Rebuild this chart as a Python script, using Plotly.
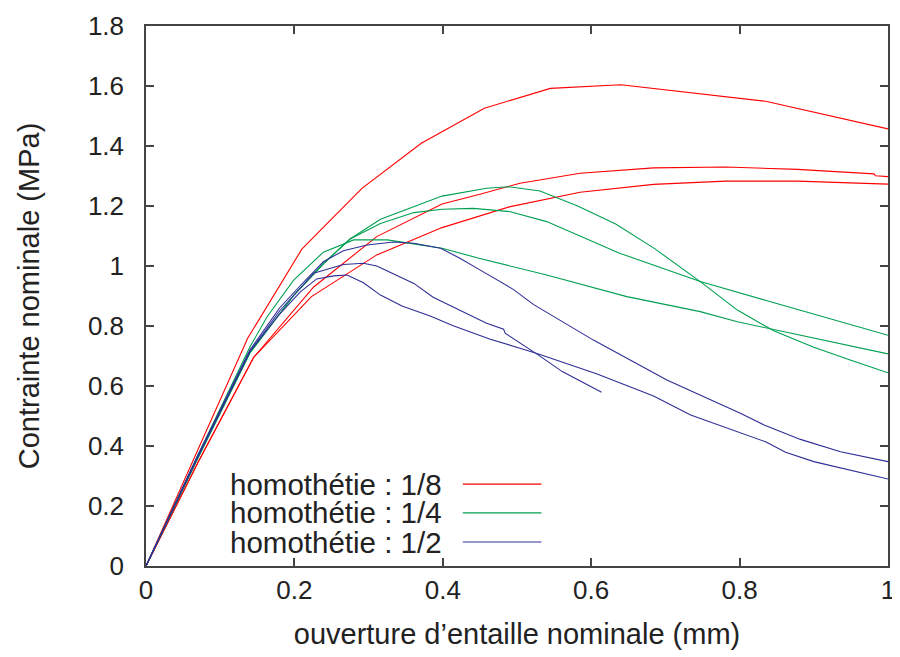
import plotly.graph_objects as go

# homothétie 1/8 (red)
r1_x = [0, 0.137, 0.21, 0.291, 0.371, 0.456, 0.545, 0.640, 0.835, 1.0]
r1_y = [0, 0.759, 1.056, 1.259, 1.409, 1.526, 1.592, 1.604, 1.549, 1.457]
r2_x = [0, 0.07, 0.145, 0.226, 0.311, 0.399, 0.45, 0.504, 0.585, 0.684, 0.781, 0.878, 0.981, 0.983, 1.0]
r2_y = [0, 0.345, 0.695, 0.93, 1.098, 1.207, 1.239, 1.276, 1.309, 1.327, 1.330, 1.322, 1.307, 1.301, 1.298]
r3_x = [0, 0.07, 0.145, 0.223, 0.311, 0.399, 0.491, 0.585, 0.684, 0.781, 0.878, 1.0]
r3_y = [0, 0.345, 0.695, 0.898, 1.037, 1.128, 1.198, 1.246, 1.272, 1.283, 1.283, 1.273]

# homothétie 1/4 (green)
g1_x = [0, 0.07, 0.14, 0.2, 0.24, 0.275, 0.316, 0.399, 0.459, 0.489, 0.531, 0.581, 0.633, 0.686, 0.747, 0.797, 0.846, 0.900, 0.949, 1.0]
g1_y = [0, 0.36, 0.71, 0.905, 1.01, 1.09, 1.156, 1.233, 1.259, 1.264, 1.25, 1.201, 1.14, 1.057, 0.948, 0.853, 0.784, 0.729, 0.687, 0.644]
g2_x = [0, 0.07, 0.14, 0.2, 0.24, 0.275, 0.316, 0.361, 0.399, 0.441, 0.491, 0.540, 0.639, 0.689, 0.747, 0.837, 1.0]
g2_y = [0, 0.36, 0.71, 0.905, 1.01, 1.09, 1.142, 1.178, 1.189, 1.192, 1.181, 1.148, 1.042, 0.998, 0.948, 0.884, 0.769]
g3_x = [0, 0.07, 0.14, 0.163, 0.199, 0.239, 0.28, 0.325, 0.365, 0.399, 0.45, 0.540, 0.648, 0.747, 0.797, 0.940, 1.0]
g3_y = [0, 0.37, 0.73, 0.83, 0.953, 1.046, 1.087, 1.087, 1.072, 1.059, 1.025, 0.970, 0.898, 0.848, 0.814, 0.737, 0.707]

# homothétie 1/2 (blue)
b1_x = [0, 0.07, 0.14, 0.18, 0.21, 0.239, 0.266, 0.298, 0.334, 0.361, 0.397, 0.423, 0.45, 0.495, 0.522, 0.603, 0.702, 0.801, 0.833, 0.882, 0.936, 1.0]
b1_y = [0, 0.37, 0.72, 0.86, 0.94, 1.014, 1.051, 1.07, 1.08, 1.076, 1.059, 1.026, 0.987, 0.922, 0.872, 0.753, 0.62, 0.509, 0.47, 0.422, 0.381, 0.348]
b2_x = [0, 0.07, 0.14, 0.18, 0.226, 0.266, 0.293, 0.311, 0.361, 0.387, 0.459, 0.482, 0.484, 0.529, 0.561, 0.614]
b2_y = [0, 0.365, 0.715, 0.85, 0.976, 1.005, 1.009, 1.0, 0.942, 0.896, 0.809, 0.789, 0.776, 0.703, 0.648, 0.579]
b3_x = [0, 0.07, 0.14, 0.18, 0.208, 0.230, 0.253, 0.271, 0.293, 0.316, 0.345, 0.383, 0.414, 0.464, 0.504, 0.529, 0.608, 0.684, 0.734, 0.835, 0.862, 0.9, 1.0]
b3_y = [0, 0.365, 0.715, 0.84, 0.914, 0.957, 0.967, 0.97, 0.944, 0.903, 0.867, 0.833, 0.801, 0.756, 0.726, 0.707, 0.64, 0.567, 0.503, 0.414, 0.379, 0.348, 0.29]

legend_labels = ["homothétie : 1/8", "homothétie : 1/4", "homothétie : 1/2"]
colors = ["#ff0000", "#00a050", "#2e2e96"]

x_ticks = [0, 0.2, 0.4, 0.6, 0.8, 1]
x_ticktext = ["0", "0.2", "0.4", "0.6", "0.8", "1"]
y_ticks = [0, 0.2, 0.4, 0.6, 0.8, 1, 1.2, 1.4, 1.6, 1.8]
y_ticktext = ["0", "0.2", "0.4", "0.6", "0.8", "1", "1.2", "1.4", "1.6", "1.8"]

groups = [
    [(r1_x, r1_y), (r2_x, r2_y), (r3_x, r3_y)],
    [(g1_x, g1_y), (g2_x, g2_y), (g3_x, g3_y)],
    [(b1_x, b1_y), (b2_x, b2_y), (b3_x, b3_y)],
]

fig = go.Figure()
for gi, grp in enumerate(groups):
    for xs, ys in grp:
        fig.add_trace(go.Scatter(x=xs, y=ys, mode="lines",
                                 line=dict(color=colors[gi], width=1.1),
                                 name=legend_labels[gi], showlegend=False,
                                 hoverinfo="skip"))

font_fam = "Liberation Sans, Arial, sans-serif"
txt_col = "#222222"

# gnuplot-style legend: text, then line sample to the right
row_y = [0.273, 0.177, 0.080]
for i, lab in enumerate(legend_labels):
    fig.add_annotation(x=0.401, y=row_y[i], xref="x", yref="y", text=lab,
                       showarrow=False, xanchor="right", yanchor="middle",
                       font=dict(family=font_fam, size=29.5, color=txt_col))
    fig.add_shape(type="line", xref="x", yref="y", x0=0.427, x1=0.533,
                  y0=row_y[i], y1=row_y[i], line=dict(color=colors[i], width=1.1))

axis_common = dict(showgrid=False, zeroline=False, showline=True, linecolor="#444444",
                   linewidth=1.5, mirror="allticks", ticks="inside", ticklen=8,
                   tickcolor="#444444", tickwidth=1.5, automargin=False,
                   tickfont=dict(family=font_fam, size=26, color=txt_col))

fig.update_xaxes(range=[0, 1], tickvals=x_ticks, ticktext=x_ticktext,
                 title=dict(text="ouverture d’entaille nominale (mm)",
                            font=dict(family=font_fam, size=29, color=txt_col), standoff=20),
                 **axis_common)
fig.update_yaxes(range=[0, 1.8], tickvals=y_ticks, ticktext=y_ticktext,
                 title=dict(text="Contrainte nominale (MPa)",
                            font=dict(family=font_fam, size=29, color=txt_col), standoff=40),
                 ticklabelstandoff=15, **axis_common)

# page body has an 8px margin, so the figure is sized/offset to compensate
fig.update_layout(width=892, height=649, plot_bgcolor="white", paper_bgcolor="white",
                  margin=dict(l=138, r=12, t=18, b=91), showlegend=False)

fig.write_html("out.html")
